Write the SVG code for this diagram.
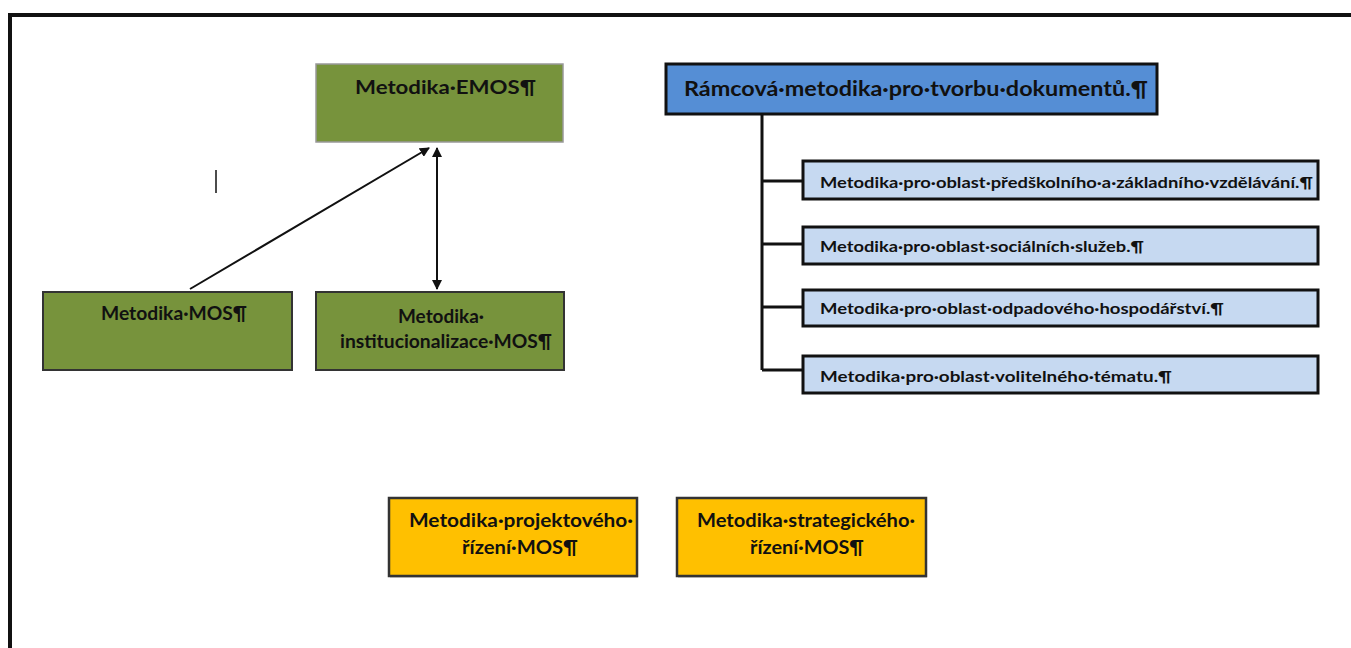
<svg xmlns="http://www.w3.org/2000/svg" width="1351" height="648" viewBox="0 0 1351 648">
<style>
text{font-family:Lato,"Liberation Sans",Arial,sans-serif;font-weight:bold;fill:#111}
.g{fill:#77933C;stroke:#333;stroke-width:2}
.o{fill:#FFC000;stroke:#333;stroke-width:2.5}
.b{fill:#C6D9F1;stroke:#111;stroke-width:3}
.sh{fill:#bbb;opacity:.6}
.t18{font-size:18px}
.t15{font-size:15px}
.c{stroke:#111;stroke-width:2;fill:none}
.tr{stroke:#111;stroke-width:3;fill:none}
</style>
<defs>
<marker id="ah" viewBox="0 0 10 10" refX="9" refY="5" markerWidth="5" markerHeight="5" orient="auto-start-reverse"><path d="M0,0 L10,5 L0,10 z" fill="#111"/></marker>
</defs>
<rect width="1351" height="648" fill="#fff"/>
<path d="M10,648 V15 H1351" fill="none" stroke="#111" stroke-width="4"/>
<line x1="216" y1="170" x2="216" y2="193" stroke="#111" stroke-width="1.5"/>

<g id="emos">
<rect x="316" y="64" width="247" height="78" fill="#77933C" stroke="#999" stroke-width="1.5"/>
<text class="t18" x="355" y="94" textLength="181" lengthAdjust="spacingAndGlyphs">Metodika·EMOS¶</text>
</g>
<g id="mos">
<rect class="g" x="43" y="292" width="249" height="78"/>
<text class="t18" x="101" y="320" textLength="146" lengthAdjust="spacingAndGlyphs">Metodika·MOS¶</text>
</g>
<g id="inst">
<rect class="g" x="316" y="292" width="248" height="78"/>
<text class="t18" x="398" y="323" textLength="86" lengthAdjust="spacingAndGlyphs">Metodika·</text>
<text class="t18" x="340" y="348" textLength="212" lengthAdjust="spacingAndGlyphs">institucionalizace·MOS¶</text>
</g>

<g id="connectors">
<line class="c" x1="190" y1="289" x2="429" y2="148" marker-end="url(#ah)"/>
<line class="c" x1="437" y1="148" x2="437" y2="289" marker-start="url(#ah)" marker-end="url(#ah)"/>
<path class="tr" d="M762,114 V370 M762,181 H803 M762,244 H803 M762,307 H803 M762,370 H803"/>
</g>

<g id="ramcova">
<rect x="666" y="64" width="491" height="50" fill="#558ED5" stroke="#111" stroke-width="3"/>
<text x="684" y="96" font-size="20" textLength="464" lengthAdjust="spacingAndGlyphs">Rámcová·metodika·pro·tvorbu·dokumentů.¶</text>
</g>
<g id="sub1">
<rect class="b" x="803" y="161" width="515" height="38"/>
<text class="t15" x="820" y="188" textLength="493" lengthAdjust="spacingAndGlyphs">Metodika·pro·oblast·předškolního·a·základního·vzdělávání.¶</text>
</g>
<g id="sub2">
<rect class="b" x="803" y="227" width="515" height="37"/>
<text class="t15" x="820" y="252" textLength="324" lengthAdjust="spacingAndGlyphs">Metodika·pro·oblast·sociálních·služeb.¶</text>
</g>
<g id="sub3">
<rect class="b" x="803" y="290" width="515" height="36"/>
<text class="t15" x="820" y="314" textLength="404" lengthAdjust="spacingAndGlyphs">Metodika·pro·oblast·odpadového·hospodářství.¶</text>
</g>
<g id="sub4">
<rect class="b" x="803" y="356" width="515" height="37"/>
<text class="t15" x="820" y="382" textLength="352" lengthAdjust="spacingAndGlyphs">Metodika·pro·oblast·volitelného·tématu.¶</text>
</g>

<g id="projekt">
<rect class="sh" x="390" y="500" width="248" height="78"/>
<rect class="o" x="389" y="498" width="248" height="78"/>
<text class="t18" x="409" y="527" textLength="224" lengthAdjust="spacingAndGlyphs">Metodika·projektového·</text>
<text class="t18" x="462" y="554" textLength="116" lengthAdjust="spacingAndGlyphs">řízení·MOS¶</text>
</g>
<g id="strateg">
<rect class="sh" x="678" y="500" width="249" height="78"/>
<rect class="o" x="677" y="498" width="249" height="78"/>
<text class="t18" x="697" y="527" textLength="218" lengthAdjust="spacingAndGlyphs">Metodika·strategického·</text>
<text class="t18" x="750" y="554" textLength="114" lengthAdjust="spacingAndGlyphs">řízení·MOS¶</text>
</g>
</svg>
